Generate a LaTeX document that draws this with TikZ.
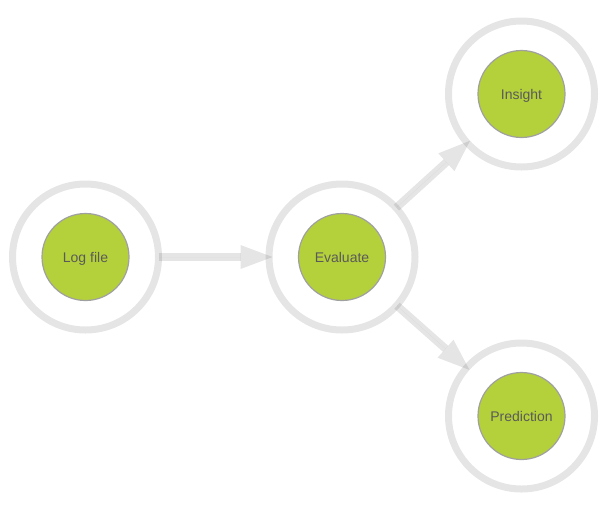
\documentclass[tikz,border=0pt]{standalone}
\usepackage{fontspec}
\setmainfont{Liberation Sans}
\usetikzlibrary{arrows.meta}
\definecolor{leaf}{HTML}{B4D13B}
\definecolor{rimgray}{HTML}{A0A0A0}
\definecolor{txtgray}{HTML}{5A5A5A}
\begin{document}
\begin{tikzpicture}[x=1pt,y=-1pt,
  ring/.style={circle,draw=black,draw opacity=0.1,line width=7pt,minimum size=146pt,inner sep=0pt,outer sep=0pt},
  core/.style={circle,fill=leaf,draw=rimgray,line width=1.2pt,minimum size=87pt,inner sep=0pt,text depth=0pt,font=\fontsize{14pt}{16pt}\selectfont,text=txtgray},
  link/.style={draw=black,draw opacity=0.1,fill=black,fill opacity=0.1,line width=8pt,shorten <=0.5pt,shorten >=-3.5pt,-{Triangle[length=32pt 0,width=24pt 0,line width=0pt 0]}}]
\useasboundingbox (0,0) rectangle (609,507);
\node[ring] (logring) at (85.5,257) {};
\node[core] (log) at (85.5,257) {Log file};
\node[ring] (evring) at (342,257) {};
\node[core] (ev) at (342,257) {Evaluate};
\node[ring] (insring) at (521.5,94) {};
\node[core] (ins) at (521.5,94) {Insight};
\node[ring] (prering) at (521.5,416) {};
\node[core] (pre) at (521.5,416) {Prediction};
\draw[link] (logring) -- (evring);
\draw[link] (evring) -- (insring);
\draw[link] (evring) -- (prering);
\end{tikzpicture}
\end{document}
